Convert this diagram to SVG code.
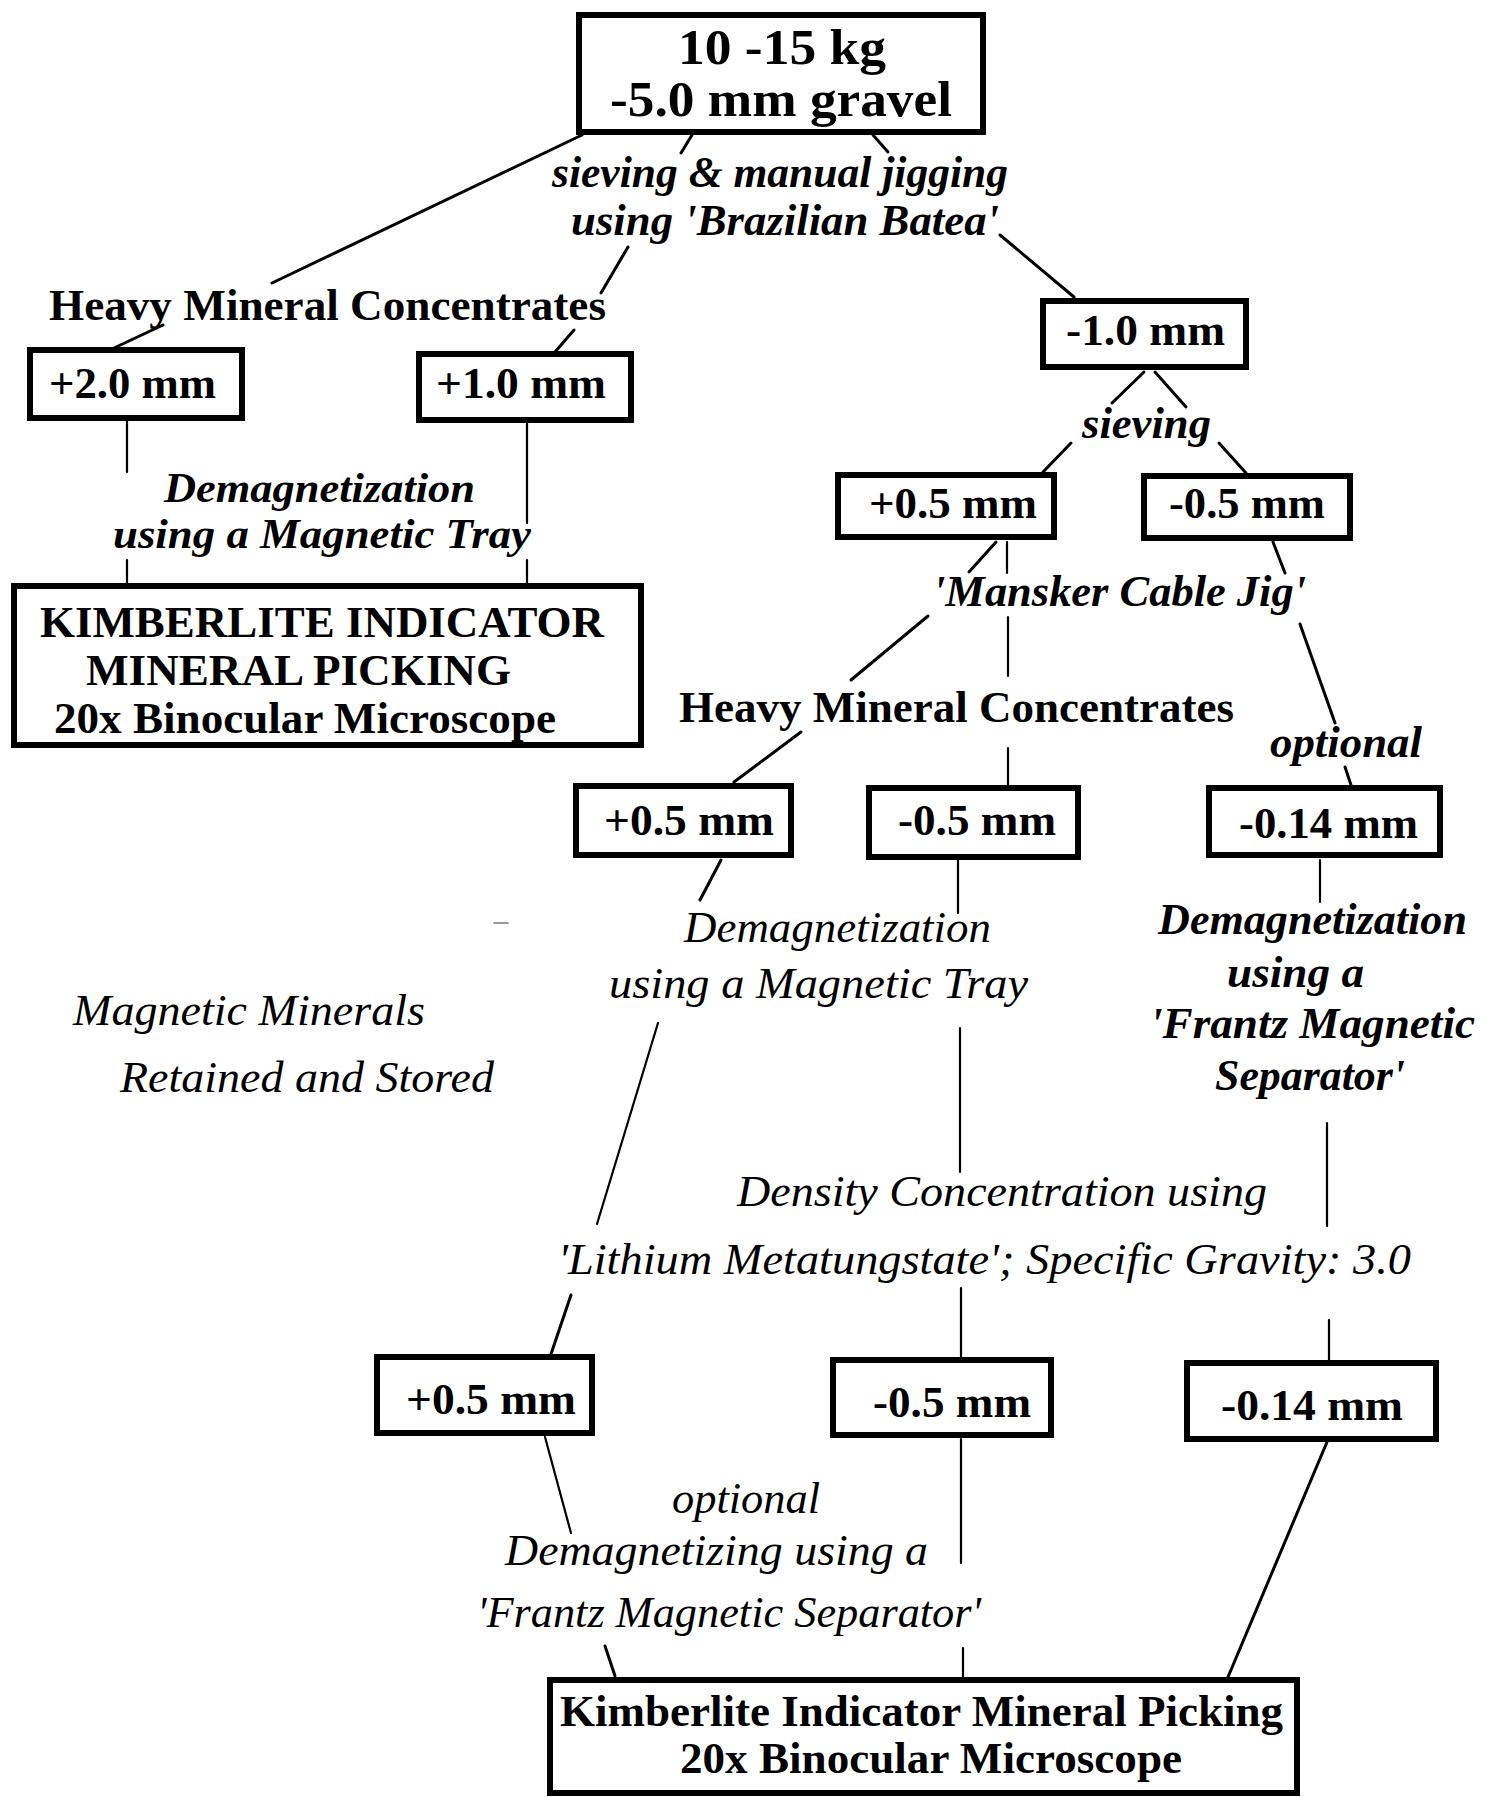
<svg xmlns="http://www.w3.org/2000/svg" width="1488" height="1797" viewBox="0 0 1488 1797">
<style>
.box{fill:#fff;stroke:#000;stroke-width:6}
.t{font-size:45px;fill:#000}
.b{font-weight:bold}
.i{font-style:italic}
.top{font-size:51px}
.sm{font-size:43px}
.c line{stroke:#000;stroke-width:3;stroke-linecap:round}
.c line.v{stroke-width:2.2}
</style>
<rect width="1488" height="1797" fill="#fff"/>
<g class="c" id="connectors">
<line x1="582" y1="135" x2="272" y2="283"/>
<line x1="692" y1="135" x2="681" y2="153"/>
<line x1="873" y1="135" x2="888" y2="152"/>
<line x1="628" y1="247" x2="601" y2="293"/>
<line x1="1000" y1="235" x2="1074" y2="297"/>
<line x1="163" y1="325" x2="114" y2="348"/>
<line x1="574" y1="330" x2="555" y2="352"/>
<line class="v" x1="127" y1="421" x2="127" y2="472"/>
<line class="v" x1="127" y1="560" x2="127" y2="583"/>
<line class="v" x1="527" y1="423" x2="527" y2="523"/>
<line class="v" x1="527" y1="560" x2="527" y2="583"/>
<line x1="1144" y1="372" x2="1112" y2="403"/>
<line x1="1155" y1="372" x2="1186" y2="407"/>
<line x1="1071" y1="443" x2="1043" y2="472"/>
<line x1="1219" y1="443" x2="1246" y2="473"/>
<line x1="996" y1="542" x2="969" y2="572"/>
<line class="v" x1="1007" y1="542" x2="1007" y2="573"/>
<line x1="1273" y1="542" x2="1285" y2="573"/>
<line x1="928" y1="616" x2="851" y2="680"/>
<line class="v" x1="1008" y1="617" x2="1008" y2="676"/>
<line x1="1300" y1="624" x2="1335" y2="723"/>
<line x1="801" y1="732" x2="734" y2="782"/>
<line class="v" x1="1008" y1="748" x2="1008" y2="785"/>
<line x1="1345" y1="767" x2="1351" y2="785"/>
<line x1="721" y1="860" x2="700" y2="900"/>
<line class="v" x1="958" y1="860" x2="958" y2="913"/>
<line class="v" x1="1320" y1="860" x2="1320" y2="902"/>
<line class="v" x1="658" y1="1023" x2="597" y2="1224"/>
<line class="v" x1="960" y1="1028" x2="960" y2="1172"/>
<line class="v" x1="1327" y1="1123" x2="1327" y2="1226"/>
<line x1="571" y1="1295" x2="551" y2="1354"/>
<line class="v" x1="961" y1="1288" x2="961" y2="1357"/>
<line class="v" x1="1329" y1="1320" x2="1329" y2="1360"/>
<line class="v" x1="545" y1="1437" x2="571" y2="1533"/>
<line class="v" x1="961" y1="1439" x2="961" y2="1563"/>
<line x1="1327" y1="1442" x2="1228" y2="1677"/>
<line x1="605" y1="1646" x2="615" y2="1676"/>
<line class="v" x1="963" y1="1648" x2="963" y2="1677"/>
<line x1="494" y1="923" x2="508" y2="923" style="stroke:#777;stroke-width:1.5"/>
</g>
<g font-family="Liberation Serif, 'Times New Roman', serif">
<g id="n-gravel"><rect class="box" x="579" y="15" width="404" height="117"/>
<text class="t b top" x="678" y="64" textLength="208" lengthAdjust="spacingAndGlyphs">10 -15 kg</text>
<text class="t b top" x="610" y="116" textLength="342" lengthAdjust="spacingAndGlyphs">-5.0 mm gravel</text></g>
<g id="l-jigging">
<text class="t b i" x="552" y="187" textLength="456" lengthAdjust="spacingAndGlyphs">sieving &amp; manual jigging</text>
<text class="t b i" x="571" y="235" textLength="428" lengthAdjust="spacingAndGlyphs">using 'Brazilian Batea'</text></g>
<g id="l-hmc1"><text class="t b" x="49" y="320" textLength="557" lengthAdjust="spacingAndGlyphs">Heavy Mineral Concentrates</text></g>
<g id="n-p20"><rect class="box" x="30" y="350" width="212" height="68"/>
<text class="t b" x="49" y="398" textLength="167" lengthAdjust="spacingAndGlyphs">+2.0 mm</text></g>
<g id="n-p10"><rect class="box" x="419" y="354" width="212" height="66"/>
<text class="t b" x="436" y="398" textLength="170" lengthAdjust="spacingAndGlyphs">+1.0 mm</text></g>
<g id="l-demag1">
<text class="t b i sm" x="164" y="502" textLength="311" lengthAdjust="spacingAndGlyphs">Demagnetization</text>
<text class="t b i sm" x="113" y="548" textLength="418" lengthAdjust="spacingAndGlyphs">using a Magnetic Tray</text></g>
<g id="n-kimpick1"><rect class="box" x="14" y="586" width="627" height="159"/>
<text class="t b" x="40" y="637" textLength="564" lengthAdjust="spacingAndGlyphs">KIMBERLITE INDICATOR</text>
<text class="t b" x="86" y="685" textLength="425" lengthAdjust="spacingAndGlyphs">MINERAL PICKING</text>
<text class="t b" x="54" y="733" textLength="502" lengthAdjust="spacingAndGlyphs">20x Binocular Microscope</text></g>
<g id="n-m10"><rect class="box" x="1043" y="301" width="203" height="66"/>
<text class="t b" x="1066" y="345" textLength="159" lengthAdjust="spacingAndGlyphs">-1.0 mm</text></g>
<g id="l-sieving"><text class="t b i" x="1082" y="438" textLength="129" lengthAdjust="spacingAndGlyphs">sieving</text></g>
<g id="n-p05a"><rect class="box" x="838" y="475" width="216" height="62"/>
<text class="t b" x="869" y="518" textLength="168" lengthAdjust="spacingAndGlyphs">+0.5 mm</text></g>
<g id="n-m05a"><rect class="box" x="1144" y="476" width="206" height="62"/>
<text class="t b" x="1169" y="518" textLength="156" lengthAdjust="spacingAndGlyphs">-0.5 mm</text></g>
<g id="l-mansker"><text class="t b i" x="933" y="606" textLength="373" lengthAdjust="spacingAndGlyphs">'Mansker Cable Jig'</text></g>
<g id="l-hmc2"><text class="t b" x="679" y="722" textLength="555" lengthAdjust="spacingAndGlyphs">Heavy Mineral Concentrates</text></g>
<g id="l-optional1"><text class="t b i" x="1270" y="757" textLength="152" lengthAdjust="spacingAndGlyphs">optional</text></g>
<g id="n-p05b"><rect class="box" x="576" y="786" width="215" height="69"/>
<text class="t b" x="604" y="835" textLength="170" lengthAdjust="spacingAndGlyphs">+0.5 mm</text></g>
<g id="n-m05b"><rect class="box" x="869" y="788" width="209" height="69"/>
<text class="t b" x="898" y="835" textLength="158" lengthAdjust="spacingAndGlyphs">-0.5 mm</text></g>
<g id="n-m014b"><rect class="box" x="1209" y="788" width="231" height="67"/>
<text class="t b" x="1239" y="838" textLength="179" lengthAdjust="spacingAndGlyphs">-0.14 mm</text></g>
<g id="l-demag2">
<text class="t i" x="684" y="942" textLength="307" lengthAdjust="spacingAndGlyphs">Demagnetization</text>
<text class="t i" x="609" y="998" textLength="419" lengthAdjust="spacingAndGlyphs">using a Magnetic Tray</text></g>
<g id="l-frantz1">
<text class="t b i" x="1158" y="934" textLength="309" lengthAdjust="spacingAndGlyphs">Demagnetization</text>
<text class="t b i" x="1227" y="987" textLength="137" lengthAdjust="spacingAndGlyphs">using a</text>
<text class="t b i" x="1150" y="1038" textLength="325" lengthAdjust="spacingAndGlyphs">'Frantz Magnetic</text>
<text class="t b i" x="1215" y="1090" textLength="190" lengthAdjust="spacingAndGlyphs">Separator'</text></g>
<g id="l-magnetic">
<text class="t i" x="73" y="1025" textLength="352" lengthAdjust="spacingAndGlyphs">Magnetic Minerals</text>
<text class="t i" x="120" y="1092" textLength="374" lengthAdjust="spacingAndGlyphs">Retained and Stored</text></g>
<g id="l-density">
<text class="t i" x="737" y="1206" textLength="530" lengthAdjust="spacingAndGlyphs">Density Concentration using</text>
<text class="t i" x="558" y="1274" textLength="853" lengthAdjust="spacingAndGlyphs">'Lithium Metatungstate'; Specific Gravity: 3.0</text></g>
<g id="n-p05c"><rect class="box" x="377" y="1357" width="215" height="76"/>
<text class="t b" x="406" y="1414" textLength="170" lengthAdjust="spacingAndGlyphs">+0.5 mm</text></g>
<g id="n-m05c"><rect class="box" x="833" y="1360" width="218" height="75"/>
<text class="t b" x="873" y="1417" textLength="158" lengthAdjust="spacingAndGlyphs">-0.5 mm</text></g>
<g id="n-m014c"><rect class="box" x="1187" y="1363" width="249" height="76"/>
<text class="t b" x="1221" y="1420" textLength="182" lengthAdjust="spacingAndGlyphs">-0.14 mm</text></g>
<g id="l-frantz2">
<text class="t i" x="672" y="1513" textLength="148" lengthAdjust="spacingAndGlyphs">optional</text>
<text class="t i" x="505" y="1565" textLength="423" lengthAdjust="spacingAndGlyphs">Demagnetizing using a</text>
<text class="t i" x="477" y="1627" textLength="504" lengthAdjust="spacingAndGlyphs">'Frantz Magnetic Separator'</text></g>
<g id="n-kimpick2"><rect class="box" x="550" y="1680" width="747" height="113"/>
<text class="t b" x="560" y="1726" textLength="723" lengthAdjust="spacingAndGlyphs">Kimberlite Indicator Mineral Picking</text>
<text class="t b" x="680" y="1773" textLength="502" lengthAdjust="spacingAndGlyphs">20x Binocular Microscope</text></g>
</g>
</svg>
